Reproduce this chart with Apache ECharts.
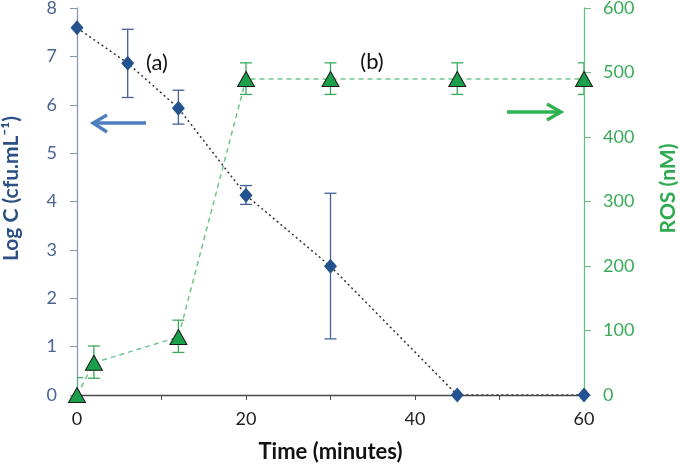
<!DOCTYPE html>
<html>
<head>
<meta charset="utf-8">
<script src="https://cdn.jsdelivr.net/npm/echarts@6/dist/echarts.min.js"></script>
<style>html,body{margin:0;padding:0;background:#fff}#c{width:680px;height:473px}</style>
</head>
<body>
<div id="c"></div>
<script>
// ---- data ----
var timeC = [0, 6, 12, 20, 30, 45, 60];
var logC = [7.59, 6.86, 5.93, 4.13, 2.66, 0, 0];
var logCLow = [null, 6.15, 5.60, 3.94, 1.16, null, null];
var logCHigh = [null, 7.56, 6.30, 4.33, 4.17, null, null];
var timeROS = [0, 2, 12, 20, 30, 45, 60];
var ros = [0, 50, 90, 490, 490, 490, 490];
var rosLow = [-27, 26, 66, 466, 466, 466, 466];
var rosHigh = [27, 76, 116, 515, 515, 515, 515];
var xTicks = [0, 20, 40, 60];

var FONT = 'Lato';
var chart = echarts.init(document.getElementById('c'));

function pairs(xs, ys) { return xs.map(function (x, i) { return [x, ys[i]]; }); }
function errs(xs, lo, hi) {
  var out = [];
  xs.forEach(function (x, i) { if (lo[i] != null) out.push([x, lo[i], hi[i]]); });
  return out;
}
function errRender(color) {
  return function (params, api) {
    var x = api.value(0);
    var p1 = api.coord([x, api.value(1)]);
    var p2 = api.coord([x, api.value(2)]);
    var w = 6;
    var st = { stroke: color, lineWidth: 1.3 };
    return {
      type: 'group',
      children: [
        { type: 'line', shape: { x1: p1[0], y1: p1[1], x2: p2[0], y2: p2[1] }, style: st },
        { type: 'line', shape: { x1: p1[0] - w, y1: p1[1], x2: p1[0] + w, y2: p1[1] }, style: st },
        { type: 'line', shape: { x1: p2[0] - w, y1: p2[1], x2: p2[0] + w, y2: p2[1] }, style: st }
      ]
    };
  };
}

var blueArrow = '#4f7fc0', greenArrow = '#2eb34f';
chart.setOption({
  animation: false,
  textStyle: { fontFamily: FONT },
  grid: { left: 77, right: 96, top: 8, bottom: 78, containLabel: false, outerBoundsMode: 'none' },
  xAxis: {
    type: 'value', min: 0, max: 60, interval: 10,
    name: 'Time (minutes)', nameLocation: 'middle', nameGap: 46,
    nameTextStyle: { fontFamily: FONT, fontWeight: 'bold', fontSize: 22, color: '#111' },
    axisLine: { onZero: false, lineStyle: { color: '#4a4a4a', width: 1.3 } },
    axisTick: { show: true, length: 5, lineStyle: { color: '#4a4a4a' } },
    splitLine: { show: false },
    axisLabel: {
      margin: 15, fontSize: 18, color: '#222', fontFamily: FONT,
      formatter: function (v) { return xTicks.indexOf(v) >= 0 ? String(v) : ''; }
    }
  },
  yAxis: [
    {
      type: 'value', min: 0, max: 8, interval: 1, position: 'left',
      name: 'Log C (cfu.mL\u207B\u00B9)', nameLocation: 'middle', nameGap: 55,
      nameTextStyle: { fontFamily: FONT, fontWeight: 'bold', fontSize: 21, color: '#2c4f85', padding: [0, 0, 0, 26] },
      axisLine: { show: true, lineStyle: { color: '#8497b5', width: 1.3 } },
      axisTick: { show: true, length: 7, lineStyle: { color: '#8497b5' } },
      splitLine: { show: false },
      axisLabel: { margin: 20, fontSize: 18, color: '#4a6494', fontFamily: FONT }
    },
    {
      type: 'value', min: 0, max: 600, interval: 100, position: 'right',
      name: 'ROS (nM)', nameLocation: 'middle', nameGap: 74, nameRotate: 90,
      nameTextStyle: { fontFamily: FONT, fontWeight: 'bold', fontSize: 21, color: '#2eaa4f', padding: [0, 0, 0, 26] },
      axisLine: { show: true, lineStyle: { color: '#6cc07f', width: 1.3 } },
      axisTick: { show: true, length: 7, lineStyle: { color: '#6cc07f' } },
      splitLine: { show: false },
      axisLabel: { margin: 19, fontSize: 18, color: '#3aaa5a', fontFamily: FONT }
    }
  ],
  series: [
    {
      type: 'custom', name: 'ROS err', yAxisIndex: 1, clip: true,
      renderItem: errRender('#3aaa5a'), data: errs(timeROS, rosLow, rosHigh), z: 2
    },
    {
      type: 'line', name: 'ROS', yAxisIndex: 1, data: pairs(timeROS, ros),
      lineStyle: { color: '#6dc68a', width: 1.5, type: [5, 4] },
      symbol: 'triangle', symbolSize: [17, 15],
      itemStyle: { color: '#1aa04a', borderColor: '#1b1b1b', borderWidth: 1 }, z: 3
    },
    {
      type: 'custom', name: 'LogC err', yAxisIndex: 0, clip: true,
      renderItem: errRender('#44609a'), data: errs(timeC, logCLow, logCHigh), z: 4
    },
    {
      type: 'line', name: 'Log C', yAxisIndex: 0, data: pairs(timeC, logC),
      lineStyle: { color: '#333', width: 1.5, type: [2, 3] },
      symbol: 'diamond', symbolSize: [13, 15],
      itemStyle: { color: '#24528f', borderWidth: 0 }, z: 5
    }
  ],
  graphic: [
    { type: 'text', style: { x: 157, y: 63, text: '(a)', font: '22px ' + FONT, fill: '#111', textAlign: 'center', textVerticalAlign: 'middle' } },
    { type: 'text', style: { x: 372, y: 62, text: '(b)', font: '22px ' + FONT, fill: '#111', textAlign: 'center', textVerticalAlign: 'middle' } },
    { type: 'polyline', shape: { points: [[146, 123], [93, 123]] }, style: { stroke: blueArrow, lineWidth: 3.3 } },
    { type: 'polyline', shape: { points: [[107, 115], [93, 123], [107, 132]] }, style: { stroke: blueArrow, lineWidth: 3.3, fill: null } },
    { type: 'polyline', shape: { points: [[507, 112], [561, 112]] }, style: { stroke: greenArrow, lineWidth: 3.3 } },
    { type: 'polyline', shape: { points: [[547, 104], [561, 112], [547, 120]] }, style: { stroke: greenArrow, lineWidth: 3.3, fill: null } }
  ]
});
</script>
</body>
</html>
